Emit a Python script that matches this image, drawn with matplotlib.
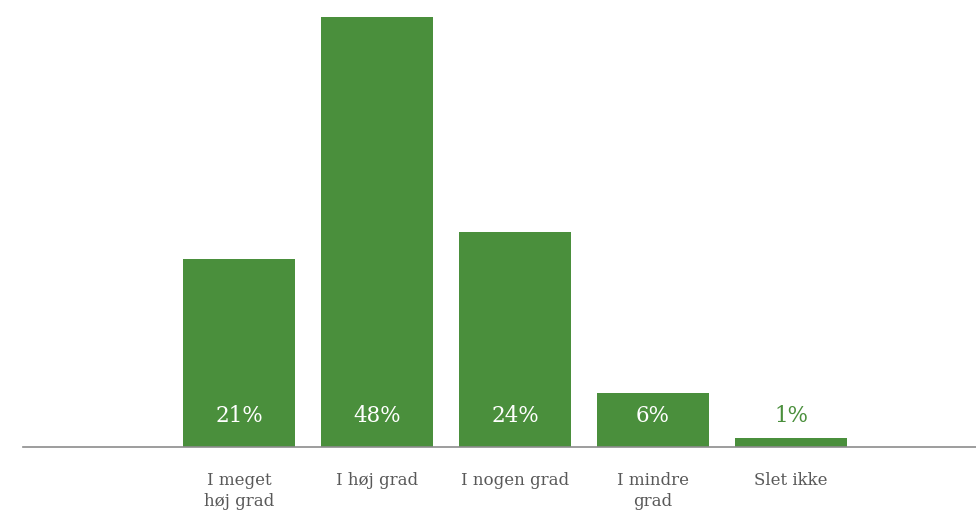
import numpy as np
import matplotlib.pyplot as plt

categories = ["I meget\nhøj grad", "I høj grad", "I nogen grad", "I mindre\ngrad", "Slet ikke"]
values = [21, 48, 24, 6, 1]

green = "#4a8f3c"
plt.rcParams["font.family"] = ["DejaVu Serif"]

fig = plt.figure(figsize=(9.76, 5.11), dpi=100)
ax = fig.add_axes([23 / 976, 64 / 511, 953 / 976, 447 / 511])

x = np.arange(1, len(values) + 1)
ax.bar(x, values, width=0.81, color=green)

for xi, v in zip(x, values):
    col = "white" if v > 3 else green
    ax.text(xi, 3.5, f"{v}%", ha="center", va="center", color=col, fontsize=15.5)

ax.set_xlim(-0.565, 6.341)
ax.set_ylim(0, 48 * 447 / 430)

ax.set_xticks(x)
ax.set_xticklabels(categories, fontsize=12, color="#595959", linespacing=1.3)
ax.tick_params(axis="x", length=0, pad=18)
ax.set_yticks([])

for s in ["top", "right", "left"]:
    ax.spines[s].set_visible(False)
ax.spines["bottom"].set_color("#8c8c8c")
ax.spines["bottom"].set_linewidth(1.2)

fig.savefig("out.png", dpi=100)
